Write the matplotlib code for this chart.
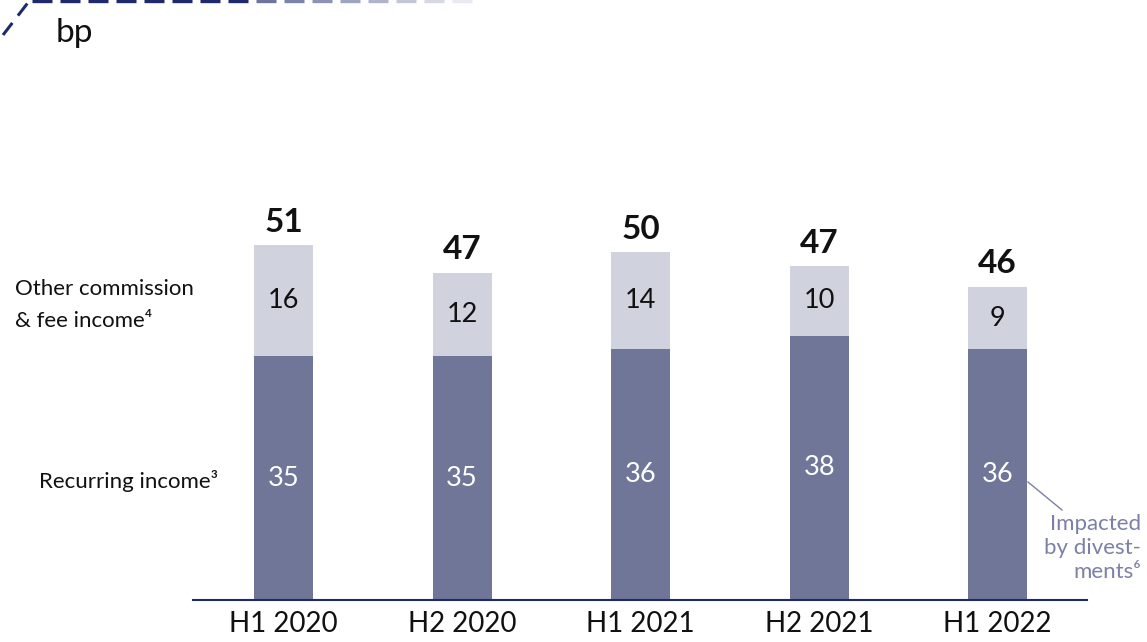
import matplotlib
matplotlib.use("Agg")
import matplotlib.pyplot as plt
import numpy as np

categories = ["H1 2020", "H2 2020", "H1 2021", "H2 2021", "H1 2022"]
recurring = [35, 35, 36, 38, 36]
other_fee = [16, 12, 14, 10, 9]
totals = [51, 47, 50, 47, 46]

FONT = ["Lato", "DejaVu Sans"]
plt.rcParams["font.family"] = FONT

DARK = "#6f7697"
LIGHT = "#d0d2de"
NAVY = "#1e2a6b"
ANNOT = "#7b80a6"

W, H = 1147, 642
fig = plt.figure(figsize=(W / 100, H / 100), dpi=100)

def fx(px):
    return px / W

def fy(py):
    return 1 - py / H

ax = fig.add_axes([fx(193), fy(600), fx(1087) - fx(193), fy(200) - fy(600)])
x = np.arange(len(categories))
ax.set_xlim(-0.507, 4.50)
ax.set_ylim(0, 400 / 6.96)
bw = 0.33
ax.bar(x, recurring, width=bw, color=DARK, zorder=2)
ax.bar(x, other_fee, width=bw, bottom=recurring, color=LIGHT, zorder=2)

for i in range(len(categories)):
    ax.text(x[i], recurring[i] / 2, str(recurring[i]), ha="center", va="center",
            color="white", fontsize=19.5)
    ax.text(x[i], recurring[i] + other_fee[i] / 2, str(other_fee[i]), ha="center",
            va="center", color="#111111", fontsize=19.5)
    ax.annotate(str(totals[i]), (x[i], recurring[i] + other_fee[i]),
                xytext=(0, 16.5), textcoords="offset points", ha="center",
                va="center", fontsize=24, fontweight="bold", color="#111111")

for s in ["top", "right", "left"]:
    ax.spines[s].set_visible(False)
ax.spines["bottom"].set_color(NAVY)
ax.spines["bottom"].set_linewidth(1.5)
ax.set_yticks([])
ax.set_xticks(x)
ax.set_xticklabels(categories, fontsize=20, color="#111111")
ax.tick_params(axis="x", length=0, pad=8)

# Left labels
fig.text(fx(15), fy(289), "Other commission", ha="left", va="center",
         fontsize=16, color="#111111")
fig.text(fx(15), fy(321), "& fee income\u2074", ha="left", va="center",
         fontsize=16, color="#111111")
fig.text(fx(218), fy(481), "Recurring income\u00b3", ha="right", va="center",
         fontsize=16, color="#111111")

# Annotation
fig.text(fx(1141), fy(524), "Impacted", ha="right", va="center", fontsize=16, color=ANNOT)
fig.text(fx(1141), fy(548), "by divest-", ha="right", va="center", fontsize=16, color=ANNOT)
fig.text(fx(1141), fy(572), "ments\u2076", ha="right", va="center", fontsize=16, color=ANNOT)
fig.add_artist(plt.Line2D([fx(1028), fx(1062)], [fy(482), fy(510)],
                          color=ANNOT, linewidth=1.0))

# bp title
fig.text(fx(56), fy(33), "bp", ha="left", va="center", fontsize=24, color="#111111")

# decorative dashed line with fade
fig.add_artist(plt.Line2D([fx(3), fx(30)], [fy(35), fy(0)], color=NAVY,
                          linewidth=2.2, linestyle=(0, (5, 3))))
start = 32
period = 28
dash = 20
n = 16
for k in range(n):
    x0 = start + k * period
    a = max(0.05, 1 - (k / n) ** 1.5) if k > 7 else 1.0
    fig.add_artist(plt.Line2D([fx(x0), fx(x0 + dash)], [fy(1), fy(1)],
                              color=NAVY, linewidth=2.4, alpha=a,
                              solid_capstyle="butt"))

fig.savefig("out.png", dpi=100)
